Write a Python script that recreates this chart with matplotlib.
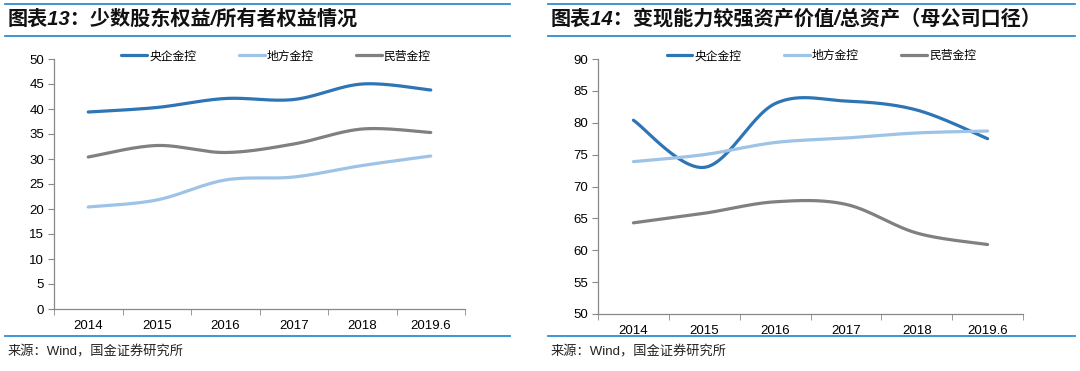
import numpy as np
import matplotlib
matplotlib.use("Agg")
import matplotlib.pyplot as plt
from matplotlib.lines import Line2D

plt.rcParams['font.family'] = ['Liberation Sans', 'Noto Sans CJK SC', 'DejaVu Sans']

categories = ["2014", "2015", "2016", "2017", "2018", "2019.6"]
series_names = ["央企金控", "地方金控", "民营金控"]

left_central = [39.4, 40.3, 42.1, 41.9, 45.0, 43.8]
left_local = [20.4, 21.8, 25.8, 26.4, 28.7, 30.6]
left_private = [30.4, 32.7, 31.3, 33.0, 36.0, 35.3]

right_central = [80.4, 73.0, 83.0, 83.4, 82.0, 77.5]
right_local = [73.9, 75.0, 76.9, 77.6, 78.4, 78.7]
right_private = [64.3, 65.8, 67.6, 67.2, 62.7, 60.9]

title_left = "图表13：少数股东权益/所有者权益情况"
title_right = "图表14：变现能力较强资产价值/总资产（母公司口径）"
source = "来源：Wind，国金证券研究所"

colors = ["#2e75b6", "#9dc3e6", "#808080"]
rule_color = "#2a8fd0"


def smooth(y, n=30):
    """Excel-like smoothed line through points (Bezier with Catmull-Rom control points)."""
    x = np.arange(len(y), dtype=float)
    y = np.asarray(y, dtype=float)
    pts = np.column_stack([x, y])
    out = [pts[0]]
    for i in range(len(pts) - 1):
        p0 = pts[i - 1] if i > 0 else pts[i]
        p1 = pts[i]
        p2 = pts[i + 1]
        p3 = pts[i + 2] if i + 2 < len(pts) else pts[i + 1]
        c1 = p1 + (p2 - p0) / 6.0
        c2 = p2 - (p3 - p1) / 6.0
        t = np.linspace(0, 1, n)[1:, None]
        seg = ((1 - t) ** 3) * p1 + 3 * ((1 - t) ** 2) * t * c1 + 3 * (1 - t) * t ** 2 * c2 + t ** 3 * p2
        out.extend(seg)
    out = np.array(out)
    return out[:, 0], out[:, 1]


W, H = 1080, 371
fig = plt.figure(figsize=(W / 100, H / 100), dpi=100)


def fx(px):
    return px / W


def fy(py):
    return 1 - py / H


def panel(x0, x1, axl, axr, ayt, ayb, title, data, ylim, yticks, legx):
    # rules
    for yy, lw in [(4, 1.3), (36, 1.3), (336, 1.3)]:
        fig.add_artist(Line2D([fx(x0), fx(x1)], [fy(yy), fy(yy)], color=rule_color, lw=lw))
    fig.text(fx(x0 + 3), fy(19), title, fontsize=14.5, fontweight='bold', style='italic',
             family=['Liberation Sans', 'Noto Sans CJK SC'], va='center', ha='left', color='#111111')
    fig.text(fx(x0 + 3), fy(352), source, fontsize=9.5, va='center', ha='left', color='#222222',
             family=['Liberation Sans', 'Noto Sans CJK SC'])

    ax = fig.add_axes([fx(axl), fy(ayb), fx(axr) - fx(axl), fy(ayt) - fy(ayb)])
    for vals, c, name in zip(data, colors, series_names):
        xs, ys = smooth(vals)
        ax.plot(xs, ys, color=c, lw=2.3, label=name, solid_capstyle='round')
    ax.set_xlim(-0.5, len(categories) - 0.5)
    ax.set_ylim(*ylim)
    ax.set_yticks(yticks)
    ax.set_xticks(range(len(categories)))
    ax.set_xticklabels(categories)
    ax.set_xticks(np.arange(-0.5, len(categories), 1.0), minor=True)
    ax.tick_params(axis='x', which='major', length=0, pad=8, labelsize=9.5)
    ax.tick_params(axis='x', which='minor', length=4, color='#888888', direction='out')
    ax.tick_params(axis='y', length=4, color='#888888', direction='out', labelsize=9.5, pad=3)
    for s in ['top', 'right']:
        ax.spines[s].set_visible(False)
    for s in ['left', 'bottom']:
        ax.spines[s].set_color('#888888')
        ax.spines[s].set_linewidth(0.9)
    ax.set_facecolor('none')
    ax.legend(loc='upper center', bbox_to_anchor=(legx, 1.08), ncol=3, frameon=False,
              handlelength=2.2, columnspacing=3.6, handletextpad=0.15,
              prop={'family': ['Noto Sans CJK SC'], 'size': 8.5})
    return ax


panel(5, 510, 54, 465, 59, 309, title_left, [left_central, left_local, left_private],
      (0, 50), range(0, 51, 5), 0.54)
panel(548, 1075, 598, 1023, 59, 314, title_right, [right_central, right_local, right_private],
      (50, 90), range(50, 91, 5), 0.525)

fig.savefig("out.png", dpi=100)
